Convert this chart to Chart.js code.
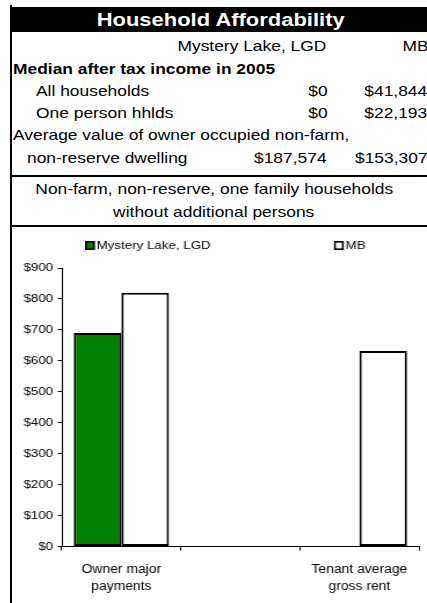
<!DOCTYPE html>
<html><head><meta charset="utf-8">
<script src="https://cdn.jsdelivr.net/npm/chart.js@4.4.0/dist/chart.umd.min.js"></script>
<style>
html,body{margin:0;padding:0;background:#fff;}
body{width:427px;height:603px;overflow:hidden;position:relative;font-family:'Liberation Sans',Arial,sans-serif;}
.abs{position:absolute;}
.t{position:absolute;white-space:nowrap;line-height:20px;height:20px;color:#000;}
.t span{display:inline-block;}
</style></head><body>
<div class="abs" style="left:10px;top:5px;width:2px;height:598px;background:#000"></div>
<div class="abs" style="left:10px;top:7px;width:417px;height:25px;background:#000"></div>
<div class="abs" style="left:10px;top:175px;width:417px;height:2px;background:#000"></div>
<div class="abs" style="left:10px;top:225px;width:417px;height:2px;background:#000"></div>
<div id="txt"></div>
<canvas id="c" width="358" height="376" style="position:absolute;left:12px;top:227px;width:415px;height:376px"></canvas>
<script>
// ---- data ----
const title = "Household Affordability";
const regionNames = ["Mystery Lake, LGD", "MB"];
const incomeHeading = "Median after tax income in 2005";
const incomeRows = ["All households", "One person hhlds"];
const incomeLGD = ["$0", "$0"];
const incomeMB = ["$41,844", "$22,193"];
const dwellingLabel = ["Average value of owner occupied non-farm,", "non-reserve dwelling"];
const dwellingValues = ["$187,574", "$153,307"];
const chartNote = ["Non-farm, non-reserve, one family households", "without additional persons"];

const categories = [["Owner major", "payments"], "", ["Tenant average", "gross rent"]];
const seriesNames = ["Mystery Lake, LGD", "MB"];
const lgdValues = [690, null, 0];
const mbValues = [820, null, 632];
const yTicks = [0, 100, 200, 300, 400, 500, 600, 700, 800, 900];

// ---- table text ----
const FONT = "'Liberation Sans', Arial, sans-serif";
const txt = document.getElementById('txt');
function put(str, o) {
  const size = o.size || 15, lh = 20, sx = o.sx || 1.16;
  const top = o.base - ((lh - size * 1.117) / 2 + size * 0.905);
  const d = document.createElement('div');
  d.className = 't';
  d.style.top = top + 'px';
  d.style.fontSize = size + 'px';
  d.style.fontFamily = FONT;
  if (o.bold) d.style.fontWeight = 'bold';
  if (o.color) d.style.color = o.color;
  const s = document.createElement('span');
  s.textContent = str;
  s.style.transform = 'scaleX(' + sx + ')';
  if (o.align === 'right') {
    d.style.right = (427 - o.x) + 'px';
    s.style.transformOrigin = 'right center';
  } else if (o.align === 'center') {
    d.style.left = (o.x - 300) + 'px';
    d.style.width = '600px';
    d.style.textAlign = 'center';
    s.style.transformOrigin = 'center center';
  } else {
    d.style.left = o.x + 'px';
    s.style.transformOrigin = 'left center';
  }
  d.appendChild(s);
  txt.appendChild(d);
}
put(title, {x: 221, base: 26.5, align: 'center', bold: true, size: 18, sx: 1.22, color: '#fff'});
put(regionNames[0], {x: 326.5, base: 51, align: 'right'});
put(regionNames[1], {x: 428, base: 51, align: 'right'});
put(incomeHeading, {x: 12.5, base: 74.5, bold: true});
incomeRows.forEach((r, i) => {
  const b = 96 + i * 22.3;
  put(r, {x: 36, base: b});
  put(incomeLGD[i], {x: 327.5, base: b, align: 'right'});
  put(incomeMB[i], {x: 427.5, base: b, align: 'right'});
});
put(dwellingLabel[0], {x: 12.5, base: 140.5});
put(dwellingLabel[1], {x: 27, base: 162.8});
put(dwellingValues[0], {x: 326.5, base: 162.8, align: 'right'});
put(dwellingValues[1], {x: 427.5, base: 162.8, align: 'right'});
put(chartNote[0], {x: 214, base: 194.5, align: 'center'});
put(chartNote[1], {x: 214, base: 216.8, align: 'center'});

// ---- chart ----
const legendPlugin = {
  id: 'customLegend',
  afterDraw(chart) {
    const ctx = chart.ctx;
    const xs = [63, 277.8];
    chart.data.datasets.forEach((ds, i) => {
      const x = xs[i], y = 14;
      ctx.save();
      ctx.fillStyle = ds.backgroundColor;
      ctx.fillRect(x, y, 8.4, 9);
      ctx.strokeStyle = '#000';
      ctx.lineWidth = 1.6;
      ctx.strokeRect(x + 0.8, y + 0.8, 6.8, 7.4);
      ctx.fillStyle = '#000';
      ctx.font = '11.5px ' + FONT;
      ctx.textBaseline = 'middle';
      ctx.textAlign = 'left';
      ctx.fillText(ds.label, x + 10, y + 4.8);
      ctx.restore();
    });
  }
};

new Chart(document.getElementById('c'), {
  type: 'bar',
  data: {
    labels: categories,
    datasets: [
      {label: seriesNames[0], data: lgdValues, backgroundColor: '#008000', borderColor: '#000', borderWidth: 2, borderSkipped: false},
      {label: seriesNames[1], data: mbValues, backgroundColor: '#ffffff', borderColor: '#000', borderWidth: 2, borderSkipped: false}
    ]
  },
  options: {
    responsive: false,
    animation: false,
    devicePixelRatio: 1,
    layout: {padding: {left: 0, right: 7, top: 41, bottom: 0}},
    plugins: {legend: {display: false}, tooltip: {enabled: false}},
    datasets: {bar: {categoryPercentage: 0.8, barPercentage: 1}},
    scales: {
      x: {
        grid: {drawOnChartArea: false, drawTicks: true, tickLength: 4, color: '#000', offset: true},
        border: {color: '#000', width: 1},
        ticks: {color: '#000', font: {family: FONT, size: 12, lineHeight: 1.42}, padding: 11, maxRotation: 0, minRotation: 0, autoSkip: false},
        afterFit(s) { s.height = 56.5; }
      },
      y: {
        min: 0, max: 900,
        afterBuildTicks(s) { s.ticks = yTicks.map(v => ({value: v})); },
        ticks: {color: '#000', font: {family: FONT, size: 11.5}, padding: 4, callback: v => '$' + v},
        grid: {drawOnChartArea: false, drawTicks: true, tickLength: 3.5, color: '#000'},
        border: {color: '#000', width: 1},
        afterFit(s) { s.width = 43; }
      }
    }
  },
  plugins: [legendPlugin]
});
</script>
</body></html>
